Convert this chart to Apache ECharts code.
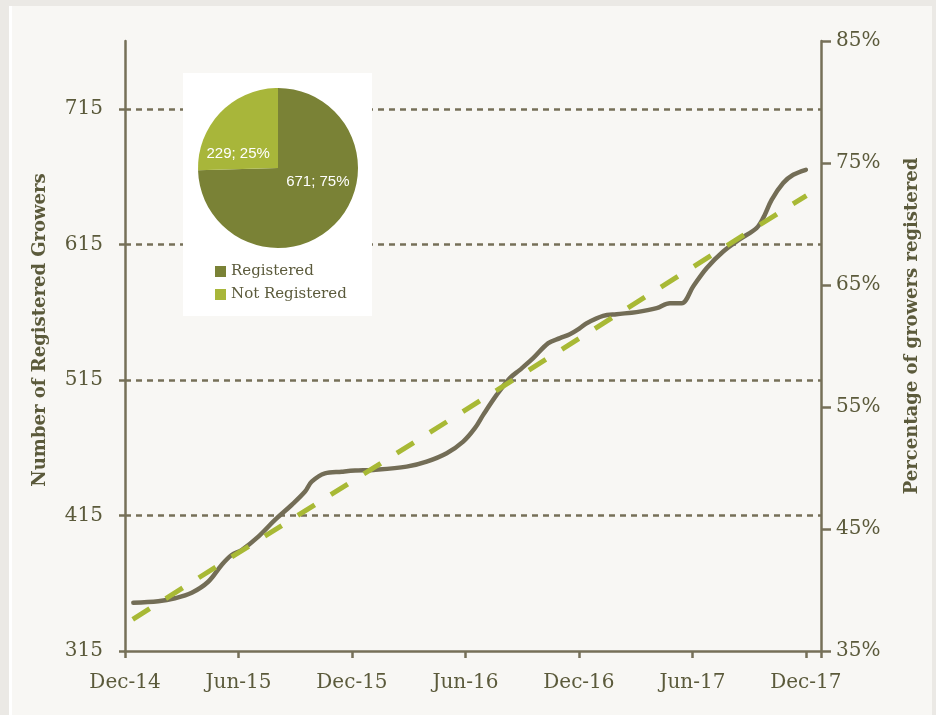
<!DOCTYPE html>
<html>
<head>
<meta charset="utf-8">
<script src="https://cdn.jsdelivr.net/npm/echarts@6/dist/echarts.min.js"></script>
<style>
  html, body { margin: 0; padding: 0; width: 936px; height: 715px; background: #ebe9e5; overflow: hidden; }
  #card { position: absolute; left: 9px; top: 6px; width: 920px; height: 709px; background: #f8f7f4; border-left: 3px solid #ffffff; }
  #chart { position: absolute; left: 0; top: 0; width: 936px; height: 715px; }
</style>
</head>
<body>
<div id="card"></div>
<div id="chart"></div>
<script>
// ---- data (months after Dec-14, registered growers) ----
const xTickLabels = ['Dec-14', 'Jun-15', 'Dec-15', 'Jun-16', 'Dec-16', 'Jun-17', 'Dec-17'];
const months = [0.44, 1.76, 2.64, 3.53, 4.40, 5.11, 5.64, 6.17, 7.05, 7.93, 8.81, 9.52, 9.87, 10.57, 11.46, 12.16,
  13.13, 14.89, 15.95, 17.01, 17.88, 18.50, 18.94, 19.65, 20.35, 20.88, 21.58, 22.38, 23.00, 23.52, 24.05, 24.41,
  25.28, 25.99, 27.05, 28.11, 28.81, 29.43, 30.04, 30.75, 31.63, 32.51, 33.39, 33.74, 34.19, 34.80, 35.33, 36.00];
const registered = [350.6, 351.7, 353.9, 358.0, 366.1, 378.5, 385.8, 389.5, 399.4, 411.7, 422.7, 432.6, 439.9, 446.1, 447.3, 448.1,
  448.6, 451.0, 454.7, 460.9, 469.5, 479.4, 489.2, 503.9, 516.3, 522.4, 531.0, 542.1, 545.8, 548.7, 553.2, 556.8,
  562.2, 563.5, 565.0, 567.9, 571.6, 571.6, 583.9, 597.4, 609.7, 618.8, 627.0, 634.3, 647.8, 660.2, 666.3, 670.0];
const trendMonths = [0.41, 36.03];
const trendValues = [338.4, 651.0];
const leftTicks = [315, 415, 515, 615, 715];
const pieNames = ['Registered', 'Not Registered'];
const pieValues = [671, 229];

const axisColor = '#767058';
const textColor = '#5b5a3b';
const serif = 'DejaVu Serif';

const chart = echarts.init(document.getElementById('chart'), null, { renderer: 'canvas' });
chart.setOption({
  backgroundColor: 'transparent',
  animation: false,
  grid: { left: 125, right: 115, top: 41, bottom: 64, containLabel: false },
  graphic: {
    zlevel: 1,
    elements: [{
      type: 'rect', zlevel: 1, z: 0, shape: { x: 183, y: 73, width: 189, height: 243 },
      style: { fill: '#ffffff' }
    }]
  },
  legend: {
    orient: 'vertical', left: 210, top: 259, itemWidth: 11, itemHeight: 11, itemGap: 8,
    icon: 'rect', data: pieNames, zlevel: 1, z: 6,
    textStyle: { fontFamily: serif, fontSize: 15, color: textColor, padding: [0, 0, 0, 0] }
  },
  xAxis: {
    type: 'value', min: 0, max: 36.8, interval: 6,
    axisLine: { show: true, lineStyle: { color: axisColor, width: 2.5 } },
    axisTick: { show: true, length: 7, lineStyle: { color: axisColor, width: 2.5 } },
    splitLine: { show: false },
    axisLabel: {
      margin: 22, fontFamily: serif, fontSize: 20, color: textColor,
      formatter: function (v) { const i = Math.round(v / 6); return Math.abs(v - i * 6) < 1e-6 ? (xTickLabels[i] || '') : ''; }
    }
  },
  yAxis: [{
    type: 'value', min: 315, max: 765, interval: 100, position: 'left',
    name: 'Number of Registered Growers', nameLocation: 'middle', nameGap: 76, nameRotate: 90,
    nameTextStyle: { fontFamily: serif, fontSize: 18, fontWeight: 'bold', color: textColor, padding: [0, 0, 0, 32] },
    axisLine: { show: true, lineStyle: { color: axisColor, width: 2.5 } },
    axisTick: { show: true, length: 8, customValues: leftTicks, lineStyle: { color: axisColor, width: 2.5, type: [6, 5] } },
    axisLabel: { margin: 22, fontFamily: serif, fontSize: 20, color: textColor, customValues: leftTicks },
    splitLine: { show: true, showMinLine: false, showMaxLine: true, lineStyle: { color: axisColor, width: 2.5, type: [6, 5] } }
  }, {
    type: 'value', min: 35, max: 85, interval: 10, position: 'right',
    name: 'Percentage of growers registered', nameLocation: 'middle', nameGap: 82, nameRotate: 90,
    nameTextStyle: { fontFamily: serif, fontSize: 18, fontWeight: 'bold', color: textColor, padding: [0, 0, 0, 40] },
    axisLine: { show: true, lineStyle: { color: axisColor, width: 2.5 } },
    axisTick: { show: true, length: 10, lineStyle: { color: axisColor, width: 2.5 } },
    axisLabel: { margin: 15, fontFamily: serif, fontSize: 20, color: textColor, formatter: '{value}%' },
    splitLine: { show: false }
  }],
  series: [{
    type: 'line', name: 'Registered growers', yAxisIndex: 0,
    data: months.map((m, i) => [m, registered[i]]),
    smooth: 0.35, showSymbol: false, z: 3,
    lineStyle: { color: '#736d56', width: 4.5, cap: 'round' }
  }, {
    type: 'line', name: 'Trend', yAxisIndex: 0,
    data: trendMonths.map((m, i) => [m, trendValues[i]]),
    showSymbol: false, z: 4,
    lineStyle: { color: '#a8b935', width: 5, type: [20, 19], cap: 'butt' }
  }, {
    type: 'pie', center: [278, 168], radius: 80, zlevel: 1, z: 5, startAngle: 90, clockwise: true,
    data: pieNames.map((n, i) => ({ name: n, value: pieValues[i] })),
    color: ['#7a8236', '#a8b63a'],
    label: {
      position: 'inside', color: '#ffffff', fontFamily: 'Liberation Sans', fontSize: 15,
      formatter: function (p) { return p.value + '; ' + Math.round(p.percent) + '%'; }
    },
    labelLayout: function (p) { return p.dataIndex === 0 ? { dx: 9, dy: -16 } : { dx: -9, dy: 16 }; },
    itemStyle: { borderWidth: 0 },
    emphasis: { disabled: true }
  }]
});
</script>
</body>
</html>
